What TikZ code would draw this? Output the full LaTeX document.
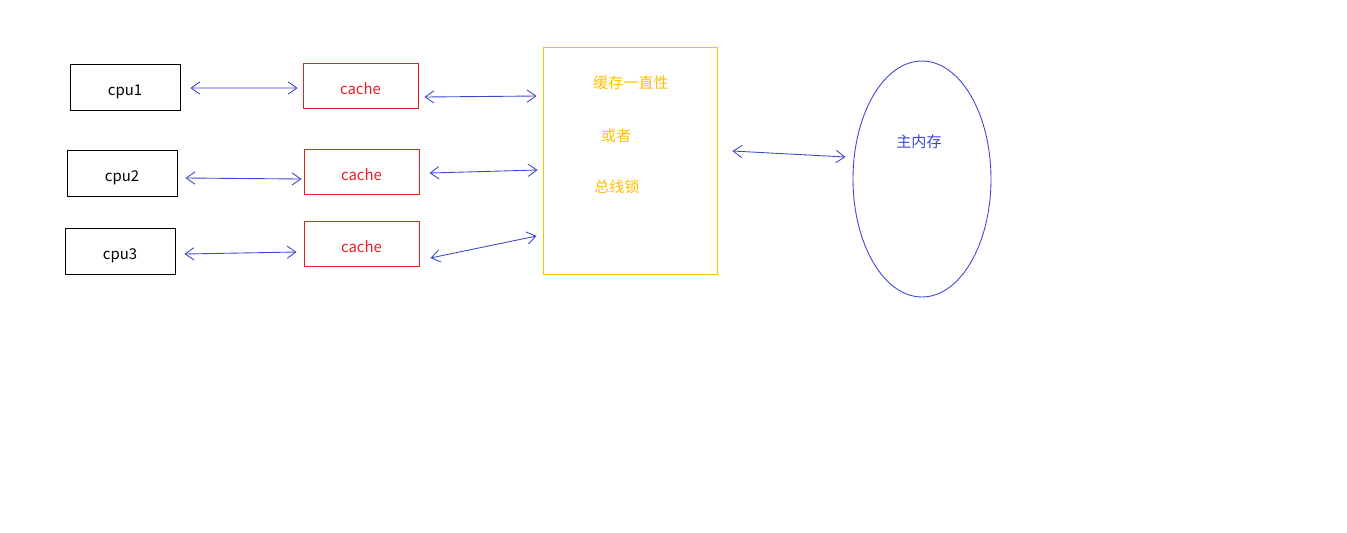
\documentclass[tikz,border=0pt]{standalone}
\usepackage{fontspec}
\setmainfont{Noto Sans CJK SC}
\usetikzlibrary{positioning,arrows.meta,shapes.geometric}

\definecolor{pen}{RGB}{63,72,204}
\definecolor{gold}{RGB}{255,192,0}
\definecolor{cachered}{RGB}{237,28,36}

\begin{document}
\begin{tikzpicture}[
    x=0.02cm, y=-0.02cm,
    cpubox/.style = {draw, minimum width=2.2cm, minimum height=0.92cm, line width=0.5pt, text height=12pt, text depth=2pt, font=\fontsize{8.5}{10}\selectfont},
    cachebox/.style = {draw=cachered, text=cachered, minimum width=2.3cm, minimum height=0.9cm, line width=0.5pt, text height=12pt, text depth=2pt, font=\fontsize{8.5}{10}\selectfont},
    link/.style = {{Straight Barb[length=5pt,width=7pt]}-{Straight Barb[length=5pt,width=7pt]}, draw=pen, line width=0.5pt},
    goldtext/.style = {text=gold, font=\fontsize{8.6}{10}\selectfont}
]
\useasboundingbox (0,0) rectangle (1347,532);

\node[cpubox] (cpu1) at (125,87) {cpu1};
\node[cpubox] (cpu2) at (122,173) {cpu2};
\node[cpubox] (cpu3) at (120,251) {cpu3};

\node[cachebox] (cache1) at (360.5,85.5) {cache};
\node[cachebox] (cache2) at (361.5,171.5) {cache};
\node[cachebox] (cache3) at (361.5,243.5) {cache};

\node[draw=gold, line width=0.5pt, minimum width=3.48cm, minimum height=4.54cm] (coh) at (630,160.5) {};
\node[goldtext] (coh1) at (631,83) {缓存一直性};
\node[goldtext] (coh2) at (616,136) {或者};
\node[goldtext] (coh3) at (617,187) {总线锁};

\node[draw=pen, ellipse, line width=0.5pt, minimum width=2.76cm, minimum height=4.72cm] (mem) at (922,179) {};
\node[text=pen, font=\fontsize{8.6}{10}\selectfont] (memtext) at (919,142) {主内存};

% cpu <-> cache
\draw[link] ([shift={(10,1)}]cpu1.east) -- ([shift={(-5,2.5)}]cache1.west);
\draw[link] ([shift={(8,5)}]cpu2.east) -- ([shift={(-2,7.5)}]cache2.west);
\draw[link] ([shift={(9,3)}]cpu3.east) -- ([shift={(-7,8.5)}]cache3.west);

% cache <-> bus
\draw[link] ([shift={(6,11.5)}]cache1.east) -- ([shift={(-6,-64.5)}]coh.west);
\draw[link] ([shift={(10,1.5)}]cache2.east) -- ([shift={(-5,9.5)}]coh.west);
\draw[link] ([shift={(11,14.5)}]cache3.east) -- ([shift={(-6,75.5)}]coh.west);

% bus <-> memory
\draw[link] ([shift={(15,-9.5)}]coh.east) -- ([shift={(-7,-22)}]mem.west);

\end{tikzpicture}
\end{document}
